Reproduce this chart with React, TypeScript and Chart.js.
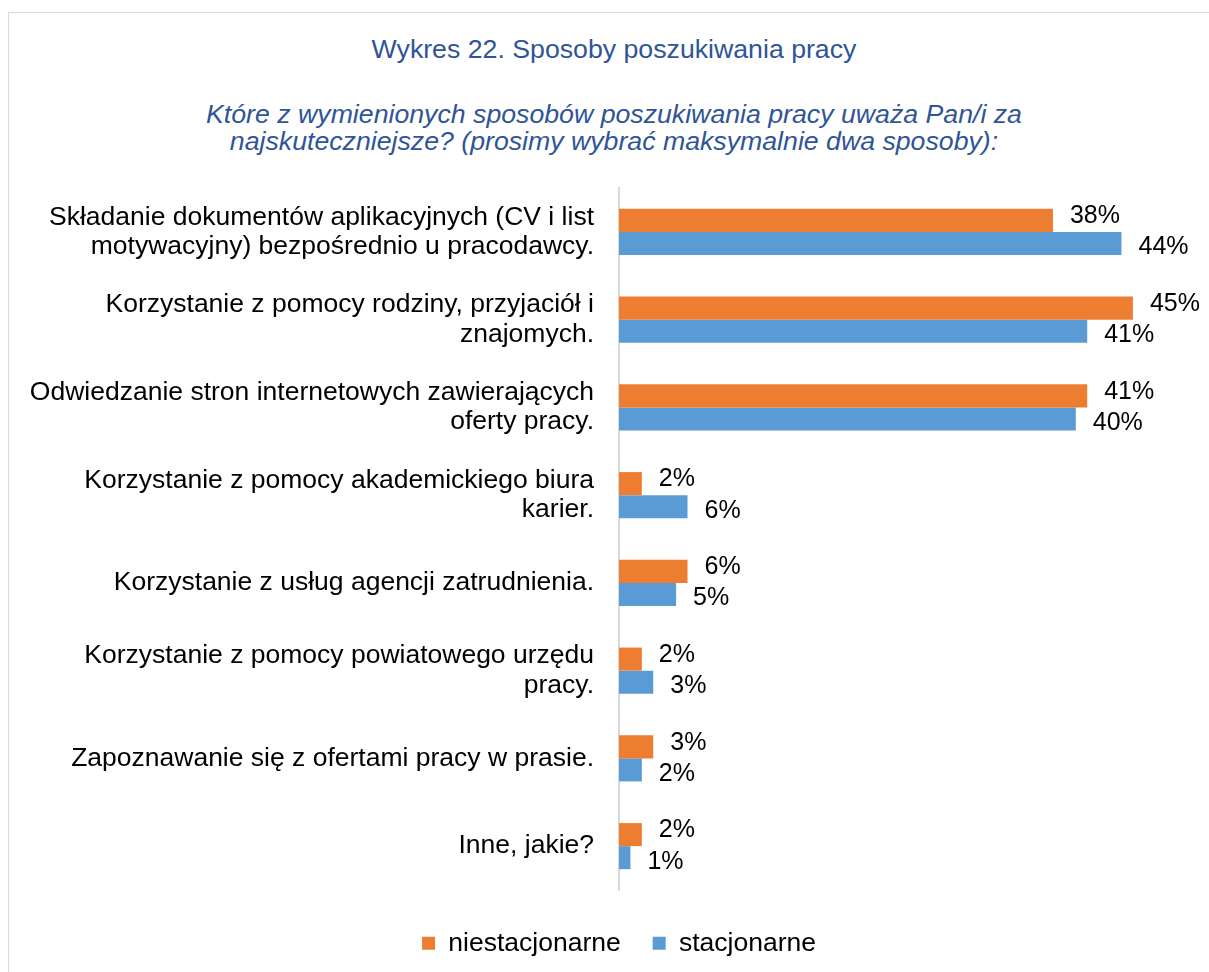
import React, { useEffect, useRef } from "react";
import { Chart, registerables } from "chart.js";

Chart.register(...registerables);

const FONT = "'Liberation Sans', Arial, sans-serif";

const titleText = "Wykres 22. Sposoby poszukiwania pracy";
const subtitleLines = [
  "Które z wymienionych sposobów poszukiwania pracy uważa Pan/i za",
  "najskuteczniejsze? (prosimy wybrać maksymalnie dwa sposoby):",
];

const categories: string[][] = [
  ["Składanie dokumentów aplikacyjnych (CV i list", "motywacyjny) bezpośrednio u pracodawcy."],
  ["Korzystanie z pomocy rodziny, przyjaciół i", "znajomych."],
  ["Odwiedzanie stron internetowych zawierających", "oferty pracy."],
  ["Korzystanie z pomocy akademickiego biura", "karier."],
  ["Korzystanie z usług agencji zatrudnienia."],
  ["Korzystanie z pomocy powiatowego urzędu", "pracy."],
  ["Zapoznawanie się z ofertami pracy w prasie."],
  ["Inne, jakie?"],
];

const seriesNames = ["niestacjonarne", "stacjonarne"];
const niestacjonarne = [38, 45, 41, 2, 6, 2, 3, 2];
const stacjonarne = [44, 41, 40, 6, 5, 3, 2, 1];
const seriesColors = ["#ED7D31", "#5B9BD5"];

const valueLabels = {
  id: "valueLabels",
  afterDatasetsDraw(chart: any) {
    const ctx = chart.ctx;
    ctx.save();
    ctx.font = `25px ${FONT}`;
    ctx.fillStyle = "#000";
    ctx.textAlign = "left";
    ctx.textBaseline = "middle";
    chart.data.datasets.forEach((ds: any, di: number) => {
      const meta = chart.getDatasetMeta(di);
      meta.data.forEach((el: any, i: number) => {
        const v = ds.data[i];
        ctx.fillText(`${v}%`, el.x + 17, el.y + (di === 0 ? -4 : 4));
      });
    });
    ctx.restore();
  },
};

// centre the legend under the whole frame rather than the canvas
const legendShift = {
  id: "legendShift",
  afterLayout(chart: any) {
    const l = chart.legend;
    if (l) {
      l.left += 24;
      l.right += 24;
    }
  },
};

function BarChart() {
  const ref = useRef<HTMLCanvasElement | null>(null);
  useEffect(() => {
    if (!ref.current) return;
    Chart.defaults.font.family = FONT;
    const chart = new Chart(ref.current, {
      type: "bar",
      data: {
        labels: categories,
        datasets: [
          {
            label: seriesNames[0],
            data: niestacjonarne,
            backgroundColor: seriesColors[0],
            borderWidth: 0,
            categoryPercentage: 0.525,
            barPercentage: 1,
          },
          {
            label: seriesNames[1],
            data: stacjonarne,
            backgroundColor: seriesColors[1],
            borderWidth: 0,
            categoryPercentage: 0.525,
            barPercentage: 1,
          },
        ],
      },
      options: {
        indexAxis: "y",
        responsive: false,
        animation: false,
        devicePixelRatio: 1,
        layout: { padding: { top: 18, left: 0, right: 19, bottom: 5.5 } },
        scales: {
          x: {
            min: 0,
            max: 50,
            display: true,
            grid: { display: false, drawTicks: false },
            border: { display: false },
            ticks: { display: false },
            afterFit: (s: any) => {
              s.height = 8;
              s.paddingLeft = 0;
              s.paddingRight = 0;
            },
          },
          y: {
            grid: { display: false, drawTicks: false },
            border: { display: true, color: "#D9D9D9", width: 2 },
            ticks: {
              color: "#000",
              padding: 25,
              font: { size: 26.5, family: FONT, lineHeight: 1.1 },
              autoSkip: false,
            },
            afterFit: (s: any) => {
              s.width = 619;
              s.paddingTop = 0;
              s.paddingBottom = 0;
            },
          },
        },
        plugins: {
          legend: {
            position: "bottom",
            labels: {
              boxWidth: 13,
              boxHeight: 13,
              padding: 32,
              color: "#000",
              font: { size: 26.5, family: FONT },
            },
          },
          tooltip: { enabled: false },
          title: { display: false },
        },
      },
      plugins: [valueLabels, legendShift],
    });
    return () => chart.destroy();
  }, []);
  return (
    <canvas
      ref={ref}
      width={1209}
      height={802}
      style={{ position: "absolute", left: 0, top: 170, width: 1209, height: 802 }}
    />
  );
}

export default function App() {
  return (
    <div
      style={{
        position: "fixed",
        left: 0,
        top: 0,
        width: 1209,
        height: 972,
        overflow: "hidden",
        background: "#fff",
        fontFamily: FONT,
      }}
    >
      <div
        style={{
          position: "absolute",
          left: 8,
          top: 12,
          width: 1212,
          height: 1000,
          border: "1.5px solid #D9D9D9",
          boxSizing: "border-box",
        }}
      />
      <div
        style={{
          position: "absolute",
          left: 8,
          top: 36,
          width: 1212,
          textAlign: "center",
          fontSize: 26.7,
          lineHeight: "27.5px",
          color: "#2F5597",
          whiteSpace: "nowrap",
        }}
      >
        {titleText}
      </div>
      <div
        style={{
          position: "absolute",
          left: 8,
          top: 100.5,
          width: 1212,
          textAlign: "center",
          fontSize: 26.7,
          lineHeight: "27.5px",
          color: "#2F5597",
          fontStyle: "italic",
          whiteSpace: "nowrap",
        }}
      >
        {subtitleLines[0]}
        <br />
        {subtitleLines[1]}
      </div>
      <BarChart />
    </div>
  );
}
